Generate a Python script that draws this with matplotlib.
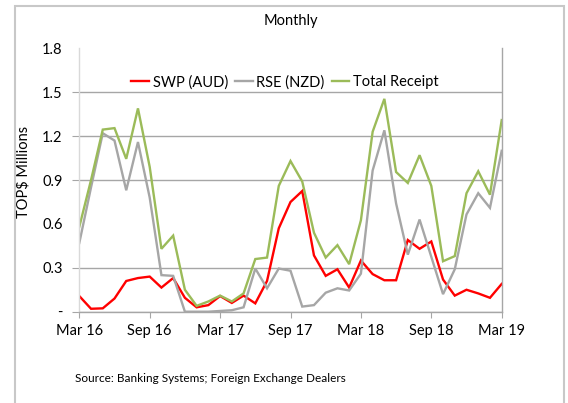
import matplotlib
matplotlib.use("Agg")
import matplotlib.pyplot as plt
from matplotlib.patches import Rectangle
import numpy as np

plt.rcParams['font.family'] = ['Lato', 'DejaVu Sans']

months = ["Mar 16", "Apr 16", "May 16", "Jun 16", "Jul 16", "Aug 16", "Sep 16", "Oct 16",
          "Nov 16", "Dec 16", "Jan 17", "Feb 17", "Mar 17", "Apr 17", "May 17", "Jun 17",
          "Jul 17", "Aug 17", "Sep 17", "Oct 17", "Nov 17", "Dec 17", "Jan 18", "Feb 18",
          "Mar 18", "Apr 18", "May 18", "Jun 18", "Jul 18", "Aug 18", "Sep 18", "Oct 18",
          "Nov 18", "Dec 18", "Jan 19", "Feb 19", "Mar 19"]

swp = [0.107, 0.02, 0.023, 0.09, 0.21, 0.23, 0.24, 0.165, 0.23, 0.095, 0.03, 0.045,
       0.107, 0.06, 0.11, 0.057, 0.21, 0.57, 0.75, 0.825, 0.385, 0.245, 0.29, 0.165,
       0.35, 0.257, 0.215, 0.215, 0.49, 0.43, 0.48, 0.22, 0.11, 0.15, 0.125, 0.095, 0.19]

rse = [0.47, 0.85, 1.22, 1.17, 0.83, 1.16, 0.78, 0.25, 0.245, 0.0, 0.0, 0.0,
       0.005, 0.01, 0.03, 0.295, 0.16, 0.295, 0.28, 0.035, 0.045, 0.13, 0.16, 0.145,
       0.26, 0.965, 1.24, 0.74, 0.39, 0.63, 0.375, 0.12, 0.29, 0.665, 0.81, 0.71, 1.10]

total = [0.58, 0.90, 1.245, 1.255, 1.045, 1.39, 0.99, 0.43, 0.52, 0.15, 0.04, 0.07,
         0.11, 0.07, 0.125, 0.36, 0.37, 0.86, 1.03, 0.89, 0.54, 0.37, 0.455, 0.325,
         0.625, 1.23, 1.455, 0.955, 0.88, 1.07, 0.86, 0.345, 0.38, 0.81, 0.96, 0.80, 1.31]

series_names = ["SWP (AUD)", "RSE (NZD)", "Total Receipt"]
series_colors = ["#FF0000", "#A6A6A6", "#9BBB59"]

yticks = [0, 0.3, 0.6, 0.9, 1.2, 1.5, 1.8]
ytick_labels = ["-", "0.3", "0.6", "0.9", "1.2", "1.5", "1.8"]
xtick_step = 6

W, H = 568, 403
fig = plt.figure(figsize=(W / 100, H / 100), dpi=100)

# outer border
fig.patches.append(Rectangle((14.5 / W, -0.01), (564 - 14.5) / W, 1 - 6 / H + 0.01,
                             transform=fig.transFigure, fill=False,
                             edgecolor="#C8C8C8", linewidth=1.5))

ax = fig.add_axes([79.3 / W, 1 - 311.7 / H, (501.7 - 79.3) / W, (311.7 - 48.4) / H])
x = np.arange(len(months))

for vals, name, col in zip([swp, rse, total], series_names, series_colors):
    ax.plot(x, vals, color=col, lw=1.7, label=name, solid_joinstyle="miter")

ax.set_xlim(0, len(months) - 1)
ax.set_ylim(0, 1.8)
ax.set_xticks(x[::xtick_step])
ax.set_xticklabels(months[::xtick_step])
ax.set_yticks(yticks)
ax.set_yticklabels(ytick_labels)

ax.tick_params(axis="x", length=4, color="#A6A6A6", labelsize=10.5, labelcolor="black", pad=5)
ax.tick_params(axis="y", length=5, color="#A6A6A6", labelsize=10.5, labelcolor="black", pad=7)

ax.yaxis.grid(True, color="#A6A6A6", lw=1.0)
gl = ax.get_ygridlines()
yt = ax.yaxis.get_major_ticks()
for i, v in enumerate(yticks):
    if v in (0.6, 1.8):
        gl[i].set_visible(False)
        yt[i].tick1line.set_visible(False)

ax.spines["top"].set_visible(False)
ax.spines["left"].set_color("#D9D9D9")
ax.spines["left"].set_linewidth(1.0)
ax.spines["right"].set_color("#A6A6A6")
ax.spines["right"].set_linewidth(1.0)
ax.spines["bottom"].set_color("#A6A6A6")
ax.spines["bottom"].set_linewidth(1.0)

ax.set_ylabel("TOP$ Millions", fontsize=10.5)
ax.yaxis.set_label_coords(-(79.3 - 30) / (501.7 - 79.3), 0.53)

ax.legend(loc="center", bbox_to_anchor=(0.487, 0.872), ncol=3, frameon=False,
          fontsize=10.5, handlelength=1.2, handletextpad=0.25, columnspacing=0.5)

fig.text(291 / W, 1 - 21 / H, "Monthly", ha="center", va="center", fontsize=10.5)
fig.text(75 / W, 1 - 379 / H, "Source: Banking Systems; Foreign Exchange Dealers",
         ha="left", va="center", fontsize=8.5)

fig.savefig("out.png", dpi=100)
